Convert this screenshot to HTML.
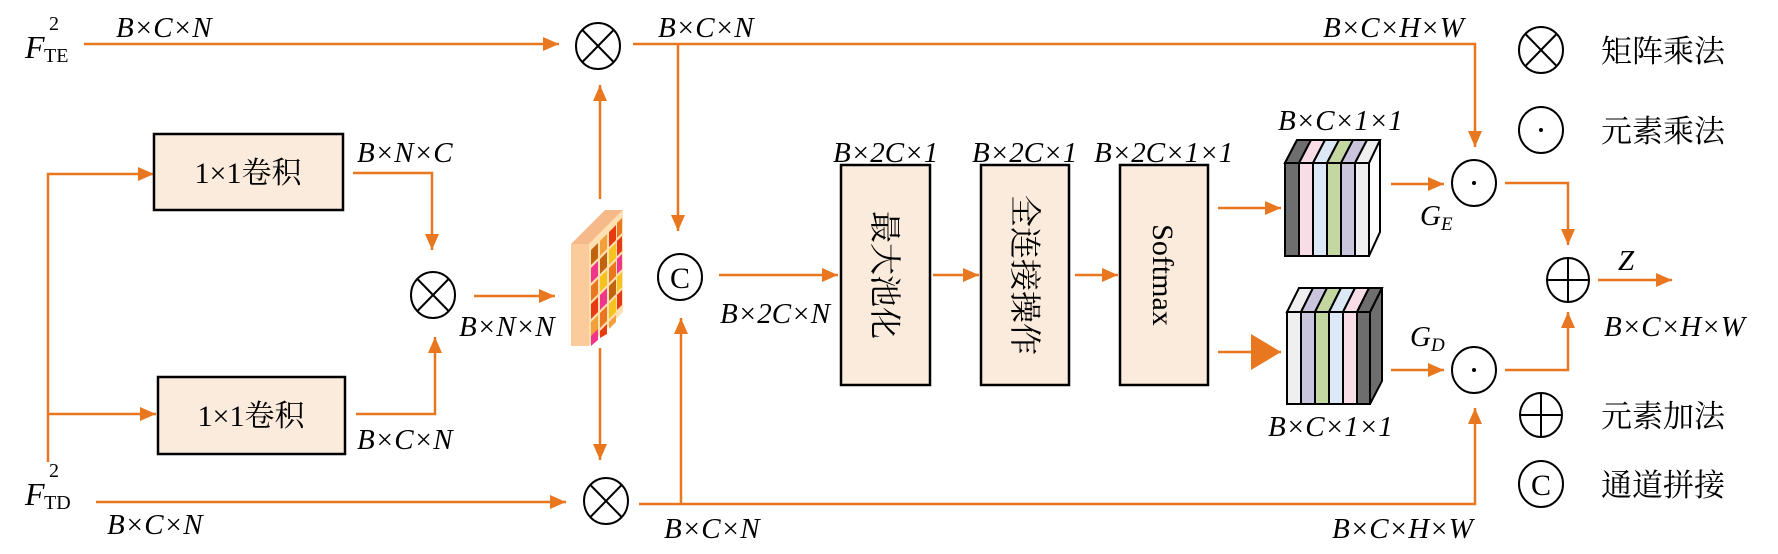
<!DOCTYPE html>
<html><head><meta charset="utf-8"><style>
html,body{margin:0;padding:0;background:#fff;}
svg{display:block;}
.l{fill:none;stroke:#E8771F;stroke-width:2.5;}
.t{font-family:"Liberation Serif",serif;font-style:italic;font-size:29px;fill:#000;}
.c{font-family:"Liberation Serif","Noto Serif CJK SC","Noto Sans CJK SC",serif;font-size:30px;fill:#000;}
.v{font-family:"Liberation Serif","Noto Serif CJK SC","Noto Sans CJK SC",serif;font-size:32px;fill:#000;}
.o{fill:#fff;stroke:#000;stroke-width:2;}
.k{stroke:#000;stroke-width:2;fill:none;}
.box{fill:#FBEBDD;stroke:#000;stroke-width:2.5;}
</style></head><body>
<svg width="1778" height="554" viewBox="0 0 1778 554" xmlns="http://www.w3.org/2000/svg">
<defs>
<marker id="a" markerUnits="userSpaceOnUse" markerWidth="18" markerHeight="16" refX="16" refY="8" orient="auto"><path d="M0,1 L16,8 L0,15 Z" fill="#E8771F"/></marker>
<marker id="b" markerUnits="userSpaceOnUse" markerWidth="32" markerHeight="36" refX="30" refY="18" orient="auto"><path d="M0,0 L30,18 L0,36 Z" fill="#E8771F"/></marker>
</defs>

<path class="l" d="M84,44 H559" marker-end="url(#a)"/>
<path class="l" d="M633,44 H1475 V147" marker-end="url(#a)"/>
<path class="l" d="M678,44 V231" marker-end="url(#a)"/>
<path class="l" d="M48,462 V174 H154" marker-end="url(#a)"/>
<path class="l" d="M48,414 H156" marker-end="url(#a)"/>
<path class="l" d="M353,173 H432 V250" marker-end="url(#a)"/>
<path class="l" d="M356,414 H435 V337" marker-end="url(#a)"/>
<path class="l" d="M474,296 H555" marker-end="url(#a)"/>
<path class="l" d="M600,199 V85" marker-end="url(#a)"/>
<path class="l" d="M600,348 V460" marker-end="url(#a)"/>
<path class="l" d="M96,502 H566" marker-end="url(#a)"/>
<path class="l" d="M639,504 H1475 V408" marker-end="url(#a)"/>
<path class="l" d="M681,504 V318" marker-end="url(#a)"/>
<path class="l" d="M719,275 H838" marker-end="url(#a)"/>
<path class="l" d="M933,275 H979" marker-end="url(#a)"/>
<path class="l" d="M1075,275 H1118" marker-end="url(#a)"/>
<path class="l" d="M1218,208 H1281" marker-end="url(#a)"/>
<path class="l" d="M1218,352 H1281" marker-end="url(#b)"/>
<path class="l" d="M1391,184 H1444" marker-end="url(#a)"/>
<path class="l" d="M1391,370 H1444" marker-end="url(#a)"/>
<path class="l" d="M1505,183 H1568 V245" marker-end="url(#a)"/>
<path class="l" d="M1505,370 H1568 V312" marker-end="url(#a)"/>
<path class="l" d="M1598,280 H1672" marker-end="url(#a)"/>

<rect class="box" x="154" y="134" width="189" height="76"/>
<text class="c" x="248" y="183" text-anchor="middle">1×1卷积</text>
<rect class="box" x="158" y="377" width="187" height="77"/>
<text class="c" x="251" y="426" text-anchor="middle">1×1卷积</text>
<rect class="box" x="841" y="165" width="89" height="220"/>
<text class="v" transform="translate(874,275) rotate(90)" text-anchor="middle">最大池化</text>
<rect class="box" x="981" y="165" width="88" height="220"/>
<text class="v" transform="translate(1014,275) rotate(90)" text-anchor="middle">全连接操作</text>
<rect class="box" x="1120" y="165" width="88" height="220"/>
<text class="v" transform="translate(1153,275) rotate(90)" text-anchor="middle" style="font-family:'Liberation Serif',serif;font-size:30px">Softmax</text>

<g stroke="none">
<polygon points="571,244 605,210 623,210 589,244" fill="#F6B98A"/>
<rect x="571" y="244" width="18" height="102" fill="#FBCB9C"/>
<polygon points="589,244 623,210 623,312 589,346" fill="#FFE0B0"/>
</g>
<g>
<polygon points="591,250 598,243 598,258 591,265" fill="#C0640E"/>
<polygon points="591,268 598,261 598,276 591,283" fill="#F0368C"/>
<polygon points="591,286 598,279 598,294 591,301" fill="#E8771F"/>
<polygon points="591,304 598,297 598,312 591,319" fill="#E83A12"/>
<polygon points="591,322 598,315 598,330 591,337" fill="#F3A03A"/>
<polygon points="591,336 598,329 598,340 591,346" fill="#F0368C"/>
<polygon points="600,241 607,234 607,249 600,256" fill="#F3A03A"/>
<polygon points="600,259 607,252 607,267 600,274" fill="#C0640E"/>
<polygon points="600,277 607,270 607,285 600,292" fill="#F6C21E"/>
<polygon points="600,295 607,288 607,303 600,310" fill="#F0368C"/>
<polygon points="600,313 607,306 607,321 600,328" fill="#E8771F"/>
<polygon points="600,331 607,324 607,334 600,338" fill="#E83A12"/>
<polygon points="609,232 616,225 616,240 609,247" fill="#E83A12"/>
<polygon points="609,250 616,243 616,258 609,265" fill="#F6C21E"/>
<polygon points="609,268 616,261 616,276 609,283" fill="#E8771F"/>
<polygon points="609,286 616,279 616,294 609,301" fill="#C0640E"/>
<polygon points="609,304 616,297 616,312 609,319" fill="#F6C21E"/>
<polygon points="609,322 616,315 616,322 609,329" fill="#F3A03A"/>
<polygon points="617,223 622,218 622,233 617,238" fill="#E8771F"/>
<polygon points="617,241 622,236 622,251 617,256" fill="#E83A12"/>
<polygon points="617,259 622,254 622,269 617,274" fill="#F0368C"/>
<polygon points="617,277 622,272 622,287 617,292" fill="#F6C21E"/>
<polygon points="617,295 622,290 622,305 617,310" fill="#E83A12"/>
</g>

<g stroke="#000" stroke-width="2">
<polygon points="1285,163 1297,140 1380,140 1369,163" fill="#fff"/>
<polygon points="1369,163 1380,140 1380,232 1369,256" fill="#fff"/>
<rect x="1285" y="163" width="14" height="93" fill="#6E6E6E"/>
<rect x="1299" y="163" width="14" height="93" fill="#F8DCE6"/>
<rect x="1313" y="163" width="14" height="93" fill="#DCE8F5"/>
<rect x="1327" y="163" width="14" height="93" fill="#C4D7A0"/>
<rect x="1341" y="163" width="14" height="93" fill="#CBC4DD"/>
<rect x="1355" y="163" width="14" height="93" fill="#EFEFEF"/>
<polygon points="1285,163 1297,140 1311,140 1299,163" fill="#6E6E6E"/>
<polygon points="1299,163 1311,140 1325,140 1313,163" fill="#F8DCE6"/>
<polygon points="1313,163 1325,140 1339,140 1327,163" fill="#DCE8F5"/>
<polygon points="1327,163 1339,140 1353,140 1341,163" fill="#C4D7A0"/>
<polygon points="1341,163 1353,140 1367,140 1355,163" fill="#CBC4DD"/>
<polygon points="1355,163 1367,140 1380,140 1369,163" fill="#EFEFEF"/>

<polygon points="1370,312 1382,288 1382,381 1370,404" fill="#6E6E6E"/>
<rect x="1287" y="312" width="14" height="92" fill="#EFEFEF"/>
<rect x="1301" y="312" width="14" height="92" fill="#CBC4DD"/>
<rect x="1315" y="312" width="14" height="92" fill="#C4D7A0"/>
<rect x="1329" y="312" width="14" height="92" fill="#DCE8F5"/>
<rect x="1343" y="312" width="14" height="92" fill="#F8DCE6"/>
<rect x="1357" y="312" width="13" height="92" fill="#6E6E6E"/>
<polygon points="1287,312 1299,288 1313,288 1301,312" fill="#EFEFEF"/>
<polygon points="1301,312 1313,288 1327,288 1315,312" fill="#CBC4DD"/>
<polygon points="1315,312 1327,288 1341,288 1329,312" fill="#C4D7A0"/>
<polygon points="1329,312 1341,288 1355,288 1343,312" fill="#DCE8F5"/>
<polygon points="1343,312 1355,288 1369,288 1357,312" fill="#F8DCE6"/>
<polygon points="1357,312 1369,288 1382,288 1370,312" fill="#6E6E6E"/>
</g>

<g>
<ellipse class="o" cx="598" cy="46" rx="22" ry="23"/><path class="k" d="M582.4,30 L613.6,62 M613.6,30 L582.4,62"/>
<ellipse class="o" cx="433" cy="295" rx="22" ry="23"/><path class="k" d="M417.4,279 L448.6,311 M448.6,279 L417.4,311"/>
<ellipse class="o" cx="606" cy="501" rx="22" ry="23"/><path class="k" d="M590.4,485 L621.6,517 M621.6,485 L590.4,517"/>
<ellipse class="o" cx="680" cy="277" rx="22" ry="23"/><text x="680" y="288" text-anchor="middle" style="font-family:'Liberation Serif',serif;font-size:30px">C</text>
<ellipse class="o" cx="1474" cy="183" rx="22" ry="23"/><circle cx="1474" cy="183" r="2" fill="#000"/>
<ellipse class="o" cx="1474" cy="370" rx="22" ry="23"/><circle cx="1474" cy="370" r="2" fill="#000"/>
<ellipse class="o" cx="1568" cy="280" rx="21" ry="22"/><path class="k" d="M1568,258 V302 M1547,280 H1589"/>
<ellipse class="o" cx="1541" cy="50" rx="22" ry="23"/><path class="k" d="M1525.4,34 L1556.6,66 M1556.6,34 L1525.4,66"/>
<ellipse class="o" cx="1541" cy="130" rx="22" ry="23"/><circle cx="1541" cy="130" r="2" fill="#000"/>
<ellipse class="o" cx="1541" cy="415" rx="21" ry="22"/><path class="k" d="M1541,393 V437 M1520,415 H1562"/>
<ellipse class="o" cx="1541" cy="484" rx="22" ry="23"/><text x="1541" y="495" text-anchor="middle" style="font-family:'Liberation Serif',serif;font-size:30px">C</text>
</g>
<text class="c" x="1601" y="62" style="font-size:31px">矩阵乘法</text>
<text class="c" x="1601" y="142" style="font-size:31px">元素乘法</text>
<text class="c" x="1601" y="427" style="font-size:31px">元素加法</text>
<text class="c" x="1601" y="496" style="font-size:31px">通道拼接</text>

<text class="t" x="25" y="58" style="font-size:32px">F</text>
<text x="44" y="62" style="font-family:'Liberation Serif',serif;font-size:20px">TE</text>
<text x="49" y="30" style="font-family:'Liberation Serif',serif;font-size:20px">2</text>
<text class="t" x="25" y="505" style="font-size:32px">F</text>
<text x="44" y="509" style="font-family:'Liberation Serif',serif;font-size:20px">TD</text>
<text x="49" y="477" style="font-family:'Liberation Serif',serif;font-size:20px">2</text>

<text class="t" x="116" y="37">B×C×N</text>
<text class="t" x="658" y="37">B×C×N</text>
<text class="t" x="1323" y="37">B×C×H×W</text>
<text class="t" x="357" y="162">B×N×C</text>
<text class="t" x="357" y="449">B×C×N</text>
<text class="t" x="459" y="336">B×N×N</text>
<text class="t" x="107" y="534">B×C×N</text>
<text class="t" x="664" y="538">B×C×N</text>
<text class="t" x="1332" y="538">B×C×H×W</text>
<text class="t" x="720" y="323">B×2C×N</text>
<text class="t" x="833" y="162">B×2C×1</text>
<text class="t" x="972" y="162">B×2C×1</text>
<text class="t" x="1094" y="162">B×2C×1×1</text>
<text class="t" x="1278" y="130">B×C×1×1</text>
<text class="t" x="1268" y="436">B×C×1×1</text>
<text class="t" x="1420" y="225">G<tspan style="font-size:19px" dy="5">E</tspan></text>
<text class="t" x="1410" y="346">G<tspan style="font-size:19px" dy="5">D</tspan></text>
<text class="t" x="1618" y="270">Z</text>
<text class="t" x="1604" y="336">B×C×H×W</text>
</svg>
</body></html>
